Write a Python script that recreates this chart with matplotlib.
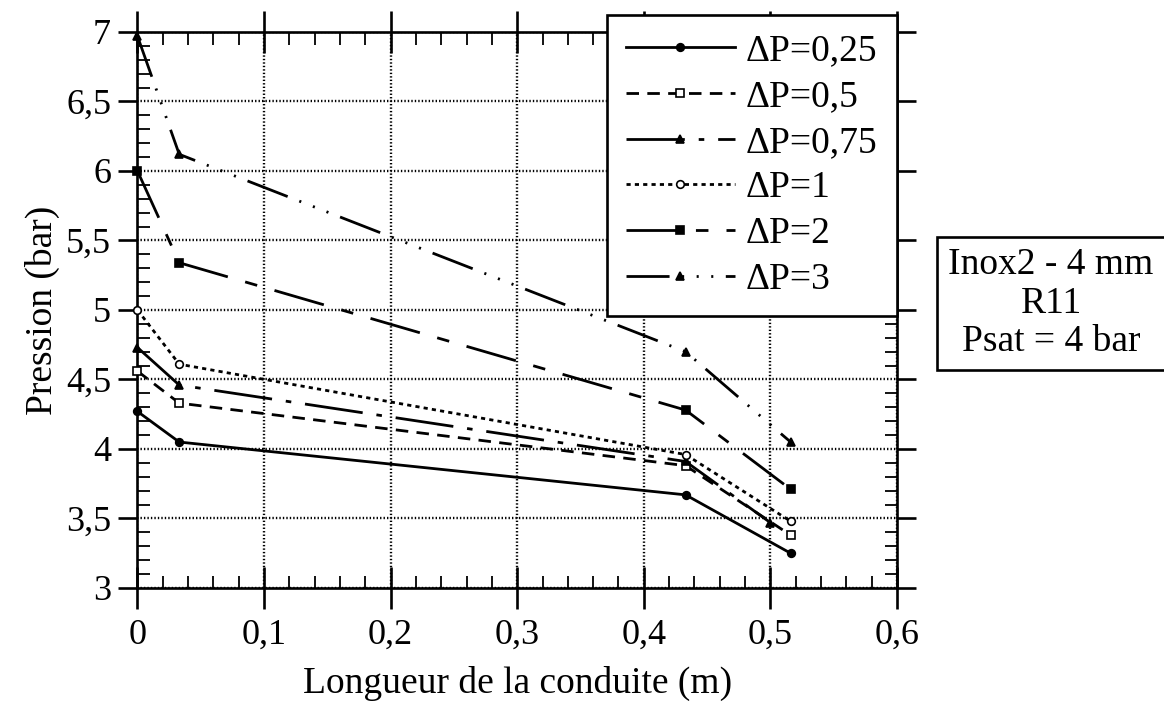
import matplotlib
matplotlib.use("Agg")
import matplotlib.pyplot as plt
from matplotlib.ticker import MultipleLocator, FuncFormatter

# Pressure profiles along the tube for several imposed pressure drops
labels = ["ΔP=0,25", "ΔP=0,5", "ΔP=0,75", "ΔP=1", "ΔP=2", "ΔP=3"]
x_main = [0.0, 0.033, 0.433, 0.516]
x_075 = [0.0, 0.033, 0.433, 0.500]
p_025 = [4.27, 4.05, 3.67, 3.25]
p_05 = [4.56, 4.33, 3.88, 3.38]
p_075 = [4.73, 4.46, 3.91, 3.47]
p_1 = [5.00, 4.61, 3.96, 3.48]
p_2 = [6.00, 5.34, 4.28, 3.71]
p_3 = [6.97, 6.12, 4.70, 4.05]

x_ticks = [0, 0.1, 0.2, 0.3, 0.4, 0.5, 0.6]
y_ticks = [3, 3.5, 4, 4.5, 5, 5.5, 6, 6.5, 7]

plt.rcParams["font.family"] = ["Liberation Serif", "DejaVu Serif"]
plt.rcParams["lines.scale_dashes"] = False

fig = plt.figure(figsize=(11.64, 7.03), dpi=100)
ax = fig.add_axes([0.1181, 0.1636, 0.6525, 0.7909])

styles = [
    dict(ls="-", marker="o", mfc="black", data=(x_main, p_025)),
    dict(ls=(0, (9, 6)), marker="s", mfc="white", data=(x_main, p_05)),
    dict(ls=(0, (42, 10, 4, 10)), marker="^", mfc="black", data=(x_075, p_075)),
    dict(ls=(0, (3, 3)), marker="o", mfc="white", data=(x_main, p_1)),
    dict(ls=(0, (37, 13, 9, 13)), marker="s", mfc="black", data=(x_main, p_2)),
    dict(ls=(0, (31, 9, 1.5, 9, 1.5, 9, 1.5, 9)), marker="^", mfc="black",
         data=(x_main, p_3)),
]

handles = []
for lab, st in zip(labels, styles):
    xs, ys = st["data"]
    h, = ax.plot(xs, ys, color="black", lw=2.0, linestyle=st["ls"],
                 marker=st["marker"], markersize=5.5, mfc=st["mfc"],
                 mec="black", mew=1.2, clip_on=False, label=lab, zorder=3)
    handles.append(h)

ax.set_xlim(0, 0.6)
ax.set_ylim(3, 7)
ax.set_xticks(x_ticks)
ax.set_yticks(y_ticks)
ax.xaxis.set_minor_locator(MultipleLocator(0.02))
ax.yaxis.set_minor_locator(MultipleLocator(0.1))

comma = FuncFormatter(lambda v, pos: ("%g" % round(v, 2)).replace(".", ","))
ax.xaxis.set_major_formatter(comma)
ax.yaxis.set_major_formatter(comma)

for s in ax.spines.values():
    s.set_linewidth(1.9)

ax.tick_params(axis="x", which="major", direction="inout", length=30,
               width=1.9, top=True, labelsize=26, pad=7)
ax.tick_params(axis="y", which="major", direction="out", length=14,
               width=1.9, right=True, labelsize=26, pad=5)
ax.tick_params(which="minor", direction="in", length=9, width=1.3,
               top=True, right=True)

ax.grid(True, which="major", color="black", linestyle=(0, (1, 1.5)), lw=1.7)
ax.set_axisbelow(True)

ax.set_xlabel("Longueur de la conduite (m)", fontsize=27, labelpad=10)
ax.set_ylabel("Pression (bar)", fontsize=27, labelpad=4)

leg = ax.legend(handles=handles, loc="upper left",
                bbox_to_anchor=(0.5215, 0.559, 0.2491, 0.4197),
                bbox_transform=fig.transFigure, mode="expand",
                fontsize=27, handlelength=2.9, handletextpad=0.3,
                labelspacing=0.3, borderpad=0.5, frameon=True,
                fancybox=False, borderaxespad=0)
frame = leg.get_frame()
frame.set_edgecolor("black")
frame.set_linewidth(1.9)
frame.set_alpha(1)

fig.text(0.903, 0.5683, "Inox2 - 4 mm\nR11\nPsat = 4 bar", fontsize=27,
         ha="center", va="center", linespacing=1.15,
         bbox=dict(boxstyle="square,pad=0.3", fc="white", ec="black", lw=1.9))

fig.savefig("out.png", dpi=100)
